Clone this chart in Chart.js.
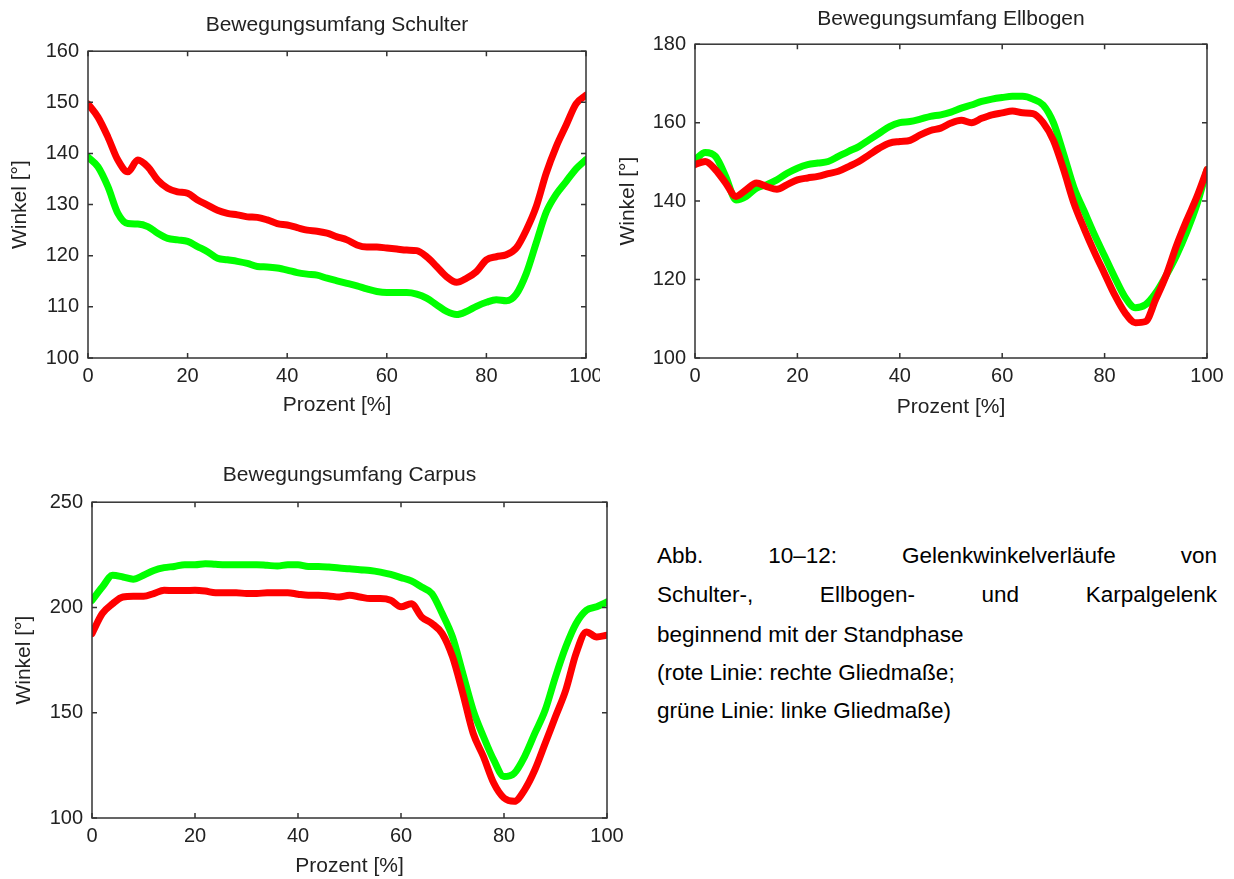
<!DOCTYPE html>
<html>
<head>
<meta charset="utf-8">
<script src="https://cdn.jsdelivr.net/npm/chart.js@4.4.1/dist/chart.umd.min.js"></script>
<style>
  body { margin: 0; background: #fff; width: 1234px; height: 879px; position: relative; overflow: hidden; }
  canvas { position: absolute; }
  #schulter { left: 0; top: 0; }
  #ellbogen { left: 610px; top: 0; }
  #carpus { left: 0; top: 460px; }
  .cap { position: absolute; left: 657px; width: 560px; font: 22.5px 'Liberation Sans', Arial, sans-serif; line-height: 26px; color: #000; white-space: nowrap; }
  .just { text-align: justify; text-align-last: justify; white-space: normal; }
</style>
</head>
<body>
<canvas id="schulter" width="600" height="420"></canvas>
<canvas id="ellbogen" width="624" height="420"></canvas>
<canvas id="carpus" width="635" height="419"></canvas>

<div class="cap just" style="top:543px">Abb. 10–12: Gelenkwinkelverläufe von</div>
<div class="cap just" style="top:582px">Schulter-, Ellbogen- und Karpalgelenk</div>
<div class="cap" style="top:622px">beginnend mit der Standphase</div>
<div class="cap" style="top:660px">(rote Linie: rechte Gliedmaße;</div>
<div class="cap" style="top:698px">grüne Linie: linke Gliedmaße)</div>

<script>
// x: Prozent des Schrittzyklus
var prozent = [0, 2, 4, 6, 8, 10, 12, 14, 16, 18, 20, 22, 24, 26, 28, 30, 32, 34, 36, 38, 40,
    42, 44, 46, 48, 50, 52, 54, 56, 58, 60, 62, 64, 66, 68, 70, 72, 74, 76, 78, 80,
    82, 84, 86, 88, 90, 92, 94, 96, 98, 100];

// Schulter
var schulterRechts = [149.7, 147.1, 143.2, 138.7, 136.4, 138.7, 137.4, 134.8, 133.2, 132.5, 132.2,
    130.9, 129.9, 128.9, 128.3, 128, 127.6, 127.5, 127, 126.3, 126,
    125.5, 125, 124.8, 124.4, 123.7, 123.1, 122.1, 121.7, 121.7, 121.5,
    121.3, 121.1, 121, 119.8, 117.9, 115.9, 114.8, 115.6, 116.9, 119.2,
    119.8, 120.2, 121.5, 125, 129.6, 136.1, 141.3, 145.5, 149.7, 151.4];
var schulterLinks = [139.3, 137.4, 133.5, 128.3, 126.3, 126.2, 125.7, 124.4, 123.4, 123.1, 122.8,
    121.8, 120.8, 119.5, 119.2, 118.9, 118.5, 117.9, 117.8, 117.6, 117.2,
    116.7, 116.4, 116.2, 115.6, 115.1, 114.6, 114.1, 113.5, 113, 112.8,
    112.8, 112.8, 112.5, 111.7, 110.4, 109.1, 108.5, 109.1, 110.1, 110.9,
    111.4, 111.2, 112.5, 116.5, 122.5, 128.5, 132, 134.5, 137, 138.8];

// Ellbogen
var ellbogenRechts = [149.3, 150.1, 148, 144.6, 141.2, 142.9, 144.6, 143.7, 143, 144.2, 145.4,
    145.9, 146.3, 147, 147.6, 148.8, 150.1, 151.8, 153.5, 154.8, 155.2,
    155.5, 156.9, 158, 158.6, 159.9, 160.6, 160, 161.1, 162, 162.5,
    163, 162.5, 162.3, 160, 155.5, 148, 139.5, 133, 127, 121.5,
    116, 111.5, 109, 109.3, 115, 121, 128.5, 135, 141, 148];
var ellbogenLinks = [150.5, 152.4, 151.4, 146.3, 140.3, 141.2, 143.3, 144.2, 145.4, 147.1, 148.4,
    149.3, 149.7, 150.1, 151.4, 152.7, 153.9, 155.6, 157.3, 159, 160,
    160.3, 160.9, 161.6, 162, 162.7, 163.7, 164.5, 165.4, 166, 166.4,
    166.7, 166.7, 166, 164.5, 160, 152, 143.5, 137.5, 131.5, 126,
    120.5, 115.5, 112.8, 113.6, 116.6, 121, 126, 132, 139, 148];

// Carpus
var carpusRechts = [187.6, 197.1, 201.8, 205, 205.3, 205.3, 206.6, 208.2, 208, 208, 208.2,
    207.8, 207, 207, 207, 206.6, 206.6, 207, 207, 207, 206.3,
    205.8, 205.8, 205.5, 205, 205.8, 205, 204.2, 204.2, 203.4, 200.3,
    201.8, 195.5, 192.4, 187.6, 176.6, 159.2, 140.3, 129.2, 116.6, 109.5,
    107.9, 113.4, 122.9, 135.5, 148.2, 160.8, 178.2, 188.4, 186, 186.8];
var carpusLinks = [203.4, 209.7, 215.3, 214.5, 213.4, 215.3, 217.6, 218.9, 219.5, 220.3, 220.3,
    220.8, 220.5, 220.3, 220.3, 220.3, 220.3, 220, 219.7, 220.3, 220.3,
    219.5, 219.5, 219.2, 218.7, 218.4, 217.9, 217.6, 216.8, 215.7, 214.2,
    212.6, 209.7, 206.6, 197.1, 186, 168.7, 151.3, 138.7, 127.6, 119.7,
    121.3, 129.2, 140.3, 151.3, 167.1, 181.3, 192.4, 198.7, 200.3, 202.6];

var font = "'Liberation Sans', Arial, sans-serif";
var textColor = '#222';

// MATLAB-artiger Rahmen mit nach innen zeigenden Ticks
var boxPlugin = {
    id: 'matlabBox',
    afterDatasetsDraw: function(chart) {
        var ctx = chart.ctx, a = chart.chartArea;
        var x = chart.scales.x, y = chart.scales.y;
        ctx.save();
        ctx.strokeStyle = '#333';
        ctx.lineWidth = 1.5;
        ctx.strokeRect(a.left, a.top, a.right - a.left, a.bottom - a.top);
        ctx.beginPath();
        x.ticks.forEach(function(t) {
            var px = x.getPixelForValue(t.value);
            ctx.moveTo(px, a.bottom); ctx.lineTo(px, a.bottom - 5);
            ctx.moveTo(px, a.top); ctx.lineTo(px, a.top + 5);
        });
        y.ticks.forEach(function(t) {
            var py = y.getPixelForValue(t.value);
            ctx.moveTo(a.left, py); ctx.lineTo(a.left + 5, py);
            ctx.moveTo(a.right, py); ctx.lineTo(a.right - 5, py);
        });
        ctx.stroke();
        ctx.restore();
    }
};

function toPoints(ys) {
    return prozent.map(function(p, i) { return {x: p, y: ys[i]}; });
}

function makeChart(id, title, rechts, links, yMin, yMax, yStep, g) {
    return new Chart(document.getElementById(id).getContext('2d'), {
        type: 'line',
        data: {
            datasets: [{
                label: 'rechte Gliedmaße',
                data: toPoints(rechts),
                borderColor: '#ff0000',
                borderWidth: 7,
                pointRadius: 0,
                cubicInterpolationMode: 'monotone',
                borderJoinStyle: 'round',
                borderCapStyle: 'round'
            }, {
                label: 'linke Gliedmaße',
                data: toPoints(links),
                borderColor: '#00ff00',
                borderWidth: 7,
                pointRadius: 0,
                cubicInterpolationMode: 'monotone',
                borderJoinStyle: 'round',
                borderCapStyle: 'round'
            }]
        },
        options: {
            responsive: false,
            animation: false,
            devicePixelRatio: 1,
            layout: { padding: { left: 0, right: g.padRight, top: 0, bottom: 0 } },
            plugins: {
                legend: { display: false },
                tooltip: { enabled: false },
                title: {
                    display: true,
                    text: title,
                    fullSize: false,
                    color: textColor,
                    font: { family: font, size: 21, weight: 'normal' },
                    padding: { top: g.titleTop, bottom: g.titleBottom }
                }
            },
            scales: {
                x: {
                    type: 'linear',
                    min: 0, max: 100,
                    grid: { display: false, drawTicks: false },
                    border: { display: false },
                    ticks: { stepSize: 20, padding: 6, color: textColor, font: { family: font, size: 20 } },
                    title: { display: true, text: 'Prozent [%]', color: textColor, font: { family: font, size: 21 }, padding: { top: 0, bottom: g.xTitlePad } },
                    afterFit: function(s) { s.height = g.xHeight; s.paddingLeft = 0; s.paddingRight = 0; }
                },
                y: {
                    min: yMin, max: yMax,
                    grid: { display: false, drawTicks: false },
                    border: { display: false },
                    ticks: { stepSize: yStep, padding: 9, color: textColor, font: { family: font, size: 20 } },
                    title: { display: true, text: 'Winkel [°]', color: textColor, font: { family: font, size: 21 }, padding: { top: g.yTitlePad, bottom: 0 } },
                    afterFit: function(s) { s.width = g.yWidth; s.paddingTop = 0; s.paddingBottom = 0; }
                }
            }
        },
        plugins: [boxPlugin]
    });
}

makeChart('schulter', 'Bewegungsumfang Schulter', schulterRechts, schulterLinks, 100, 160, 10,
    { yWidth: 88, xHeight: 62, padRight: 14, titleTop: 13, titleBottom: 13, yTitlePad: 8, xTitlePad: 2 });
makeChart('ellbogen', 'Bewegungsumfang Ellbogen', ellbogenRechts, ellbogenLinks, 100, 180, 20,
    { yWidth: 85, xHeight: 62, padRight: 27, titleTop: 7, titleBottom: 12, yTitlePad: 6, xTitlePad: 0 });
makeChart('carpus', 'Bewegungsumfang Carpus', carpusRechts, carpusLinks, 100, 250, 50,
    { yWidth: 92, xHeight: 61, padRight: 28, titleTop: 3, titleBottom: 14, yTitlePad: 12, xTitlePad: 0 });
</script>
</body>
</html>
